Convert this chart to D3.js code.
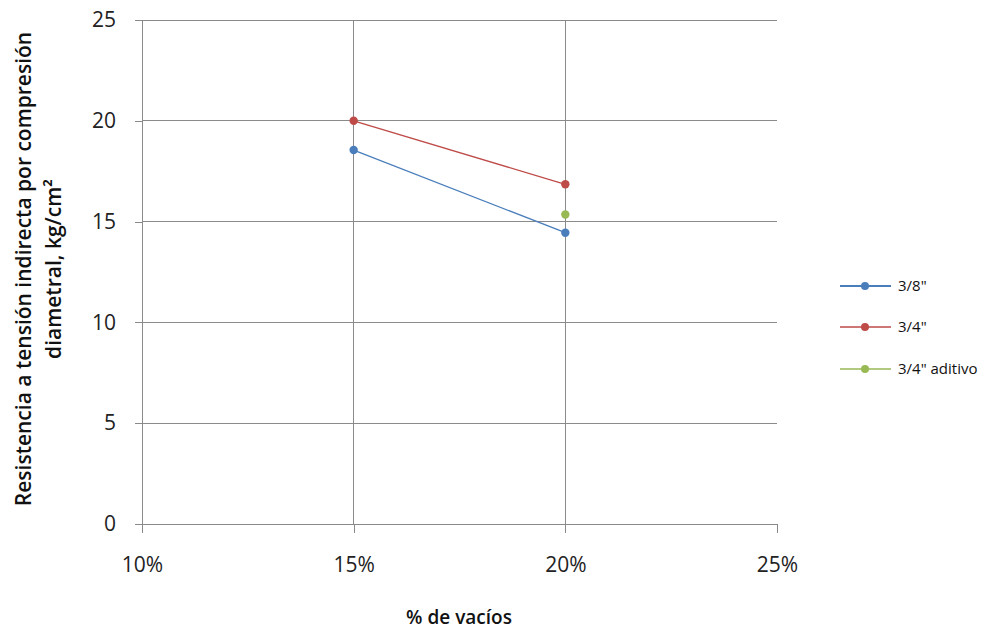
<!DOCTYPE html>
<html><head><meta charset="utf-8">
<script src="https://cdn.jsdelivr.net/npm/d3@7"></script>
<style>body{margin:0;background:#fff}svg{display:block}text{font-family:"Open Sans","Liberation Sans",sans-serif}</style>
</head><body><svg id="c" width="1005" height="629"></svg>
<script>
const xTicks = [0.10, 0.15, 0.20, 0.25];
const yTicks = [0, 5, 10, 15, 20, 25];
const seriesNames = ['3/8"', '3/4"', '3/4" aditivo'];
const seriesColors = ['#4a7ebb', '#be4b48', '#98b954'];
const s38x = [0.15, 0.20];
const s38y = [18.55, 14.45];
const s34x = [0.15, 0.20];
const s34y = [20.0, 16.85];
const sAdx = [0.20];
const sAdy = [15.35];
const seriesData = [
  s38x.map((x,i)=>({x, y:s38y[i]})),
  s34x.map((x,i)=>({x, y:s34y[i]})),
  sAdx.map((x,i)=>({x, y:sAdy[i]}))
];

const svg = d3.select('#c');
const x = d3.scaleLinear().domain([0.10, 0.25]).range([142, 777]);
const y = d3.scaleLinear().domain([0, 25]).range([524, 20]);
const grid = '#8a8a8a';

svg.append('g').selectAll('line').data(yTicks.filter(d=>d>0)).join('line')
  .attr('x1', x(0.10)).attr('x2', x(0.25)).attr('y1', d=>y(d)).attr('y2', d=>y(d))
  .attr('stroke', grid).attr('stroke-width', 1).attr('shape-rendering','crispEdges');
svg.append('g').selectAll('line').data([0.15, 0.20]).join('line')
  .attr('x1', d=>x(d)).attr('x2', d=>x(d)).attr('y1', y(25)).attr('y2', y(0))
  .attr('stroke', grid).attr('stroke-width', 1).attr('shape-rendering','crispEdges');

const yAxis = d3.axisLeft(y).tickValues(yTicks).tickSize(7).tickPadding(19).tickFormat(d3.format('d'));
const gy = svg.append('g').attr('transform', `translate(${x(0.10)},0)`).call(yAxis);
const xAxis = d3.axisBottom(x).tickValues(xTicks).tickSize(9).tickPadding(24).tickFormat(d3.format('.0%'));
const gx = svg.append('g').attr('transform', `translate(0,${y(0)})`).call(xAxis);
[gy, gx].forEach(g=>{
  g.select('.domain').attr('stroke', grid).attr('shape-rendering','crispEdges');
  g.selectAll('.tick line').attr('stroke', grid).attr('shape-rendering','crispEdges');
  g.selectAll('.tick text').attr('fill', '#222').style('font-size','21px');
});

const line = d3.line().x(d=>x(d.x)).y(d=>y(d.y));
seriesData.forEach((data,i)=>{
  svg.append('path').datum(data).attr('d', line).attr('fill','none')
    .attr('stroke', seriesColors[i]).attr('stroke-width', 1.3);
  svg.append('g').selectAll('circle').data(data).join('circle')
    .attr('cx', d=>x(d.x)).attr('cy', d=>y(d.y)).attr('r', 4.2).attr('fill', seriesColors[i]);
});

const lg = svg.append('g');
const legY = [286, 327, 369];
seriesNames.forEach((n,i)=>{
  lg.append('line').attr('x1', 840).attr('x2', 891).attr('y1', legY[i]).attr('y2', legY[i])
    .attr('stroke', seriesColors[i]).attr('stroke-width', i===0 ? 2.2 : 1.3);
  lg.append('circle').attr('cx', 865).attr('cy', legY[i]).attr('r', 4).attr('fill', seriesColors[i]);
  lg.append('text').attr('x', 898).attr('y', legY[i]).attr('dy', '0.35em')
    .style('font-size', '15px').style('font-weight', '500').attr('fill', '#111').text(n);
});

const yt = svg.append('text').attr('transform', 'translate(37,269) rotate(-90)')
  .attr('text-anchor', 'middle').style('font-size', '21px').style('font-weight', '600').attr('fill', '#111');
yt.append('tspan').attr('x', 0).attr('dy', '-0.3em').text('Resistencia a tensión indirecta por compresión');
yt.append('tspan').attr('x', 0).attr('dy', '1.45em').text('diametral, kg/cm²');

svg.append('text').attr('x', 459).attr('y', 617).attr('dy','0.35em').attr('text-anchor', 'middle')
  .style('font-size', '19px').style('font-weight', '600').attr('fill', '#111').text('% de vacíos');
</script></body></html>
